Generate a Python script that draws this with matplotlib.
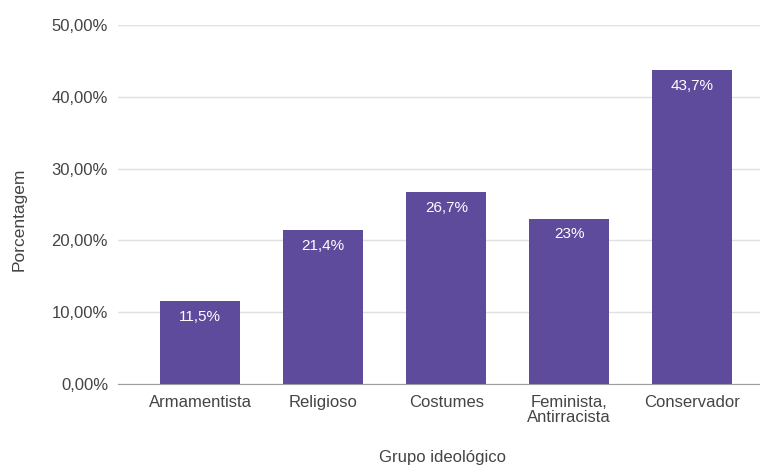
import matplotlib
matplotlib.use('Agg')
import matplotlib.pyplot as plt
from matplotlib.ticker import FuncFormatter

# dados do grafico
grupos = ['Armamentista', 'Religioso', 'Costumes', 'Feminista,\nAntirracista', 'Conservador']
valores = [11.5, 21.4, 26.7, 23.0, 43.7]
rotulos = ['11,5%', '21,4%', '26,7%', '23%', '43,7%']
y_ticks = [0, 10, 20, 30, 40, 50]

plt.rcParams['font.family'] = ['Liberation Sans', 'DejaVu Sans']

fig = plt.figure(figsize=(7.6, 4.66), dpi=100)
ax = fig.add_axes([0.155, 0.176, 0.845, 0.770])

cor = '#5f4b9b'
texto = '#444444'
x = list(range(len(grupos)))
bars = ax.bar(x, valores, width=0.65, color=cor, zorder=3)

for b, r in zip(bars, rotulos):
    ax.annotate(r, (b.get_x() + b.get_width() / 2, b.get_height()),
                xytext=(0, -11), textcoords='offset points', ha='center', va='center',
                color='white', fontsize=11, zorder=4)

ax.set_xlim(-0.67, 4.55)
ax.set_ylim(0, 50)
ax.set_yticks(y_ticks)
ax.yaxis.set_major_formatter(FuncFormatter(lambda v, p: ('%.2f%%' % v).replace('.', ',')))
ax.set_xticks(x)
ax.set_xticklabels(grupos, linespacing=1.0)

ax.grid(axis='y', color='#e0e0e0', linewidth=1, zorder=0)
for s in ['top', 'right', 'left']:
    ax.spines[s].set_visible(False)
ax.spines['bottom'].set_color('#9e9e9e')
ax.tick_params(length=0, labelsize=12, labelcolor=texto)
ax.tick_params(axis='y', pad=7)
ax.tick_params(axis='x', pad=8)

ax.set_ylabel('Porcentagem', fontsize=12.5, color=texto)
ax.yaxis.set_label_coords(-0.142, 0.46)
ax.set_xlabel('Grupo ideológico', fontsize=12, color=texto)
ax.xaxis.set_label_coords(0.506, -0.184)

fig.savefig('out.png', dpi=100, facecolor='white')
